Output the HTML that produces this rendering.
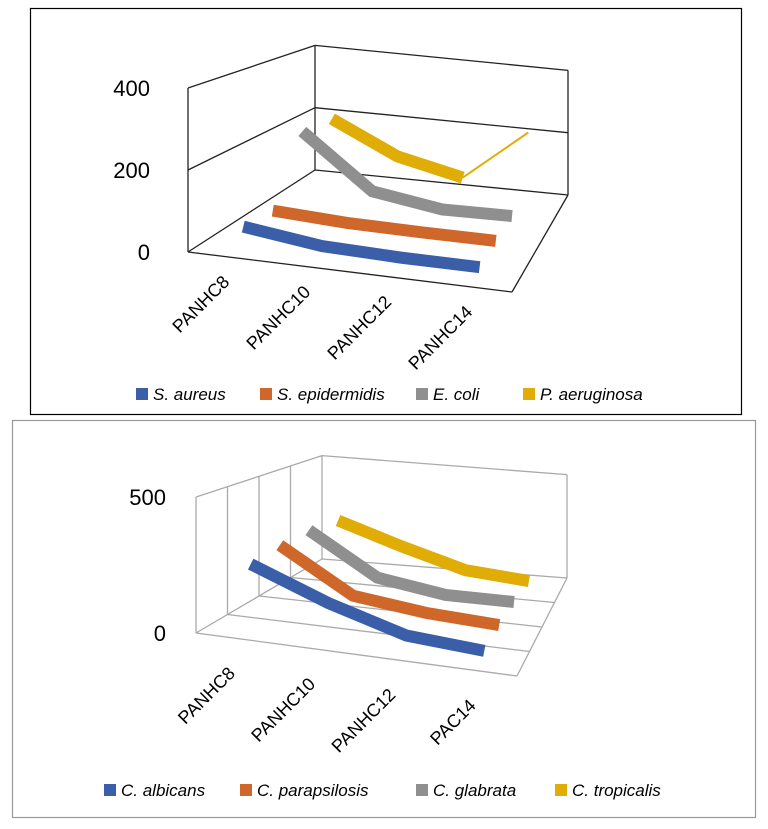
<!DOCTYPE html>
<html><head><meta charset="utf-8"><style>
body{margin:0;background:#fff;font-family:"Liberation Sans",sans-serif}
svg{display:block}
</style></head><body>
<svg id="svg" width="768" height="829" viewBox="0 0 768 829"></svg>
<script>
const categories1 = ["PANHC8","PANHC10","PANHC12","PANHC14"];
const seriesNames1 = ["S. aureus","S. epidermidis","E. coli","P. aeruginosa"];
const aureus = [50,25,20,20];
const epidermidis = [40,30,28,28];
const ecoli = [210,60,30,33];
const aeruginosa = [200,105,60,220];
const yTicks1 = [0,200,400];

const categories2 = ["PANHC8","PANHC10","PANHC12","PAC14"];
const seriesNames2 = ["C. albicans","C. parapsilosis","C. glabrata","C. tropicalis"];
const albicans = [245,135,50,30];
const parapsilosis = [260,90,55,40];
const glabrata = [260,85,40,40];
const tropicalis = [235,140,55,30];
const yTicks2 = [0,500];

const colors = ["#3a5fa8","#d0672a","#8f8f8f","#e0ad07"];
const NS="http://www.w3.org/2000/svg";
const svg=document.getElementById('svg');
function mk(tag,attrs,parent){const e=document.createElementNS(NS,tag);for(const k in attrs)e.setAttribute(k,attrs[k]);(parent||svg).appendChild(e);return e;}

function makeChart(cfg){
  const g=mk('g',{});
  
  
  const FL=cfg.FL,FR=cfg.FR,BL=cfg.BL,BR=cfg.BR;
  function floor(u,d){
    const fx=FL[0]+u*(FR[0]-FL[0]),fy=FL[1]+u*(FR[1]-FL[1]);
    const bx=BL[0]+u*(BR[0]-BL[0]),by=BL[1]+u*(BR[1]-BL[1]);
    return [fx+d*(bx-fx),fy+d*(by-fy)];
  }
  function proj(u,d,v){const p=floor(u,d);const k=cfg.kf*(1-0.24*d);return [p[0],p[1]-v*k];}
  const lc=cfg.lineColor;
  function line(a,b,name){const l=mk('line',{x1:a[0],y1:a[1],x2:b[0],y2:b[1],stroke:lc,'stroke-width':1.3},g);}
  const top=cfg.max;
  line(proj(0,0,0),proj(0,0,top),'side-wall-front-edge');
  line(proj(0,1,0),proj(0,1,top),'back-wall-left-edge');
  line(proj(1,1,0),proj(1,1,top),'back-wall-right-edge');
  line(proj(0,0,top),proj(0,1,top),'side-wall-top-edge');
  line(proj(0,1,top),proj(1,1,top),'back-wall-top-edge');
  line(proj(0,0,0),proj(1,0,0),'floor-front-edge');
  line(proj(1,0,0),proj(1,1,0),'floor-right-edge');
  line(proj(0,0,0),proj(0,1,0),'floor-left-edge');
  line(proj(0,1,0),proj(1,1,0),'floor-back-edge');
  cfg.grid.forEach(v=>{line(proj(0,0,v),proj(0,1,v),'side-gridline');line(proj(0,1,v),proj(1,1,v),'back-gridline');});
  (cfg.floorLines||[]).forEach(d=>{line(proj(0,d,0),proj(1,d,0),'floor-gridline');line(proj(0,d,0),proj(0,d,top),'side-wall-divider');});
  cfg.yTicks.forEach(t=>{const p=proj(0,0,t);const tx=mk('text',{x:p[0]-cfg.yDx,y:p[1]+8,'text-anchor':'end','font-size':22,fill:'#000'},g);tx.textContent=t;});
  cfg.categories.forEach((c,i)=>{const p=proj((i+0.5)/4,0,0);const x=p[0]+cfg.lblDx,y=p[1]+cfg.lblDy;
    const tx=mk('text',{x:x,y:y,'text-anchor':'end','font-size':cfg.lblSize,fill:'#000',transform:`rotate(-45 ${x} ${y})`},g);tx.textContent=c;
    });
  for(let s=cfg.series.length-1;s>=0;s--){
    const d=(s+0.5)/4;const vals=cfg.series[s];
    const pts=vals.map((v,i)=>proj((i+0.5)/4,d,v));
    const n=(cfg.thinLast&&cfg.thinLast[s])?pts.length-1:pts.length;
    const pl=mk('polyline',{points:pts.slice(0,n).map(p=>p.join(',')).join(' '),fill:'none',stroke:colors[s],'stroke-width':cfg.rw,'stroke-linejoin':'miter','stroke-linecap':'butt'},g);
    
    if(n<pts.length){const a=pts[n-1],b=pts[n];const tl=mk('line',{x1:a[0],y1:a[1],x2:b[0],y2:b[1],stroke:colors[s],'stroke-width':2},g);
      }
  }
  const lg=mk('g',{},g);
  cfg.names.forEach((nm,i)=>{const x=cfg.legX[i];
    const r=mk('rect',{x:x,y:cfg.legY-12,width:12,height:12,fill:colors[i]},lg);
    const t=mk('text',{x:x+17,y:cfg.legY,'font-size':17,'font-style':'italic',fill:'#000'},lg);t.textContent=nm;});
}
const b1=mk('rect',{x:30.5,y:8.5,width:711,height:406,fill:'none',stroke:'#000','stroke-width':1.2});

const b2=mk('rect',{x:12.5,y:420.5,width:743,height:397,fill:'none',stroke:'#999','stroke-width':1.2});


makeChart({name:'bacteria-chart',FL:[188,252],FR:[512,292],BL:[315,170],BR:[568,195],kf:0.41,max:400,grid:[200],
  yTicks:yTicks1,categories:categories1,series:[aureus,epidermidis,ecoli,aeruginosa],names:seriesNames1,
  thinLast:[false,false,false,true],rw:12,lineColor:'#222',lblDx:2,lblDy:26,lblSize:18,yDx:38,
  legX:[136,260,416,523],legY:400});
makeChart({name:'fungi-chart',FL:[196,633],FR:[517,676],BL:[322,559],BR:[567,578],kf:0.272,max:500,grid:[],
  floorLines:[0.25,0.5,0.75],
  yTicks:yTicks2,categories:categories2,series:[albicans,parapsilosis,glabrata,tropicalis],names:seriesNames2,
  rw:12,lineColor:'#aaa',lblDx:0,lblDy:36,lblSize:18,yDx:30,
  legX:[104,240,416,555],legY:796});
</script>
</body></html>
